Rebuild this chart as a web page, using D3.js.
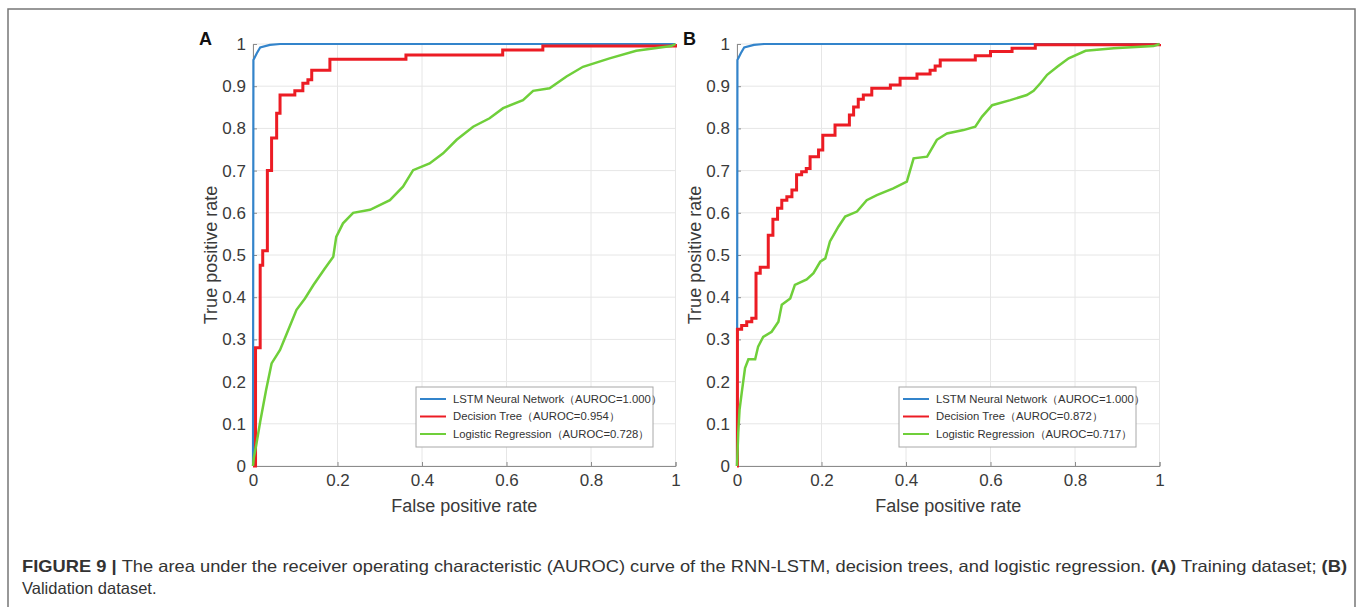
<!DOCTYPE html>
<html>
<head>
<meta charset="utf-8">
<script src="https://cdn.jsdelivr.net/npm/d3@7"></script>
<style>
  body { margin: 0; background: #fff; }
  svg { display: block; }
</style>
</head>
<body>
<div id="chart"></div>
<script>
// tick values shared by both panels
const xTicks = [0, 0.2, 0.4, 0.6, 0.8, 1];
const yTicks = [0, 0.1, 0.2, 0.3, 0.4, 0.5, 0.6, 0.7, 0.8, 0.9, 1];

const seriesNames = ["LSTM Neural Network", "Decision Tree", "Logistic Regression"];
const aurocA = ["1.000", "0.954", "0.728"];
const aurocB = ["1.000", "0.872", "0.717"];

// (A) training dataset
const lstmFprA = [0, 0.001, 0.009, 0.017, 0.04, 0.064, 1];
const lstmTprA = [0, 0.962, 0.978, 0.992, 0.998, 1, 1];

const treeFprA = [0, 0.006, 0.017, 0.023, 0.034, 0.044, 0.056, 0.064, 0.099, 0.118, 0.130, 0.139, 0.182, 0.362, 0.591, 0.686, 1];
const treeTprA = [0, 0.28, 0.476, 0.51, 0.70, 0.777, 0.836, 0.879, 0.889, 0.907, 0.915, 0.938, 0.964, 0.974, 0.986, 0.995, 1];

const logFprA = [0, 0.002, 0.007, 0.017, 0.031, 0.044, 0.064, 0.080, 0.103, 0.123, 0.143, 0.170, 0.190, 0.197, 0.213, 0.237, 0.277, 0.324, 0.355, 0.379, 0.418, 0.450, 0.482, 0.521, 0.560, 0.592, 0.639, 0.663, 0.702, 0.742, 0.781, 0.844, 0.907, 0.99, 1];
const logTprA = [0, 0.02, 0.046, 0.105, 0.18, 0.243, 0.275, 0.314, 0.37, 0.397, 0.429, 0.468, 0.496, 0.543, 0.575, 0.600, 0.607, 0.630, 0.662, 0.701, 0.717, 0.741, 0.773, 0.804, 0.824, 0.848, 0.867, 0.889, 0.895, 0.923, 0.946, 0.966, 0.984, 0.995, 1];

// (B) validation dataset
const lstmFprB = [0, 0.001, 0.009, 0.017, 0.04, 0.064, 1];
const lstmTprB = [0, 0.962, 0.978, 0.992, 0.998, 1, 1];

const treeFprB = [0, 0.001, 0.011, 0.023, 0.035, 0.045, 0.055, 0.074, 0.085, 0.096, 0.106, 0.118, 0.130, 0.141, 0.153, 0.164, 0.173, 0.193, 0.203, 0.232, 0.266, 0.276, 0.287, 0.299, 0.319, 0.363, 0.386, 0.426, 0.457, 0.469, 0.481, 0.564, 0.600, 0.651, 0.706, 1];
const treeTprB = [0, 0.324, 0.333, 0.342, 0.35, 0.457, 0.471, 0.547, 0.585, 0.611, 0.630, 0.638, 0.654, 0.690, 0.697, 0.705, 0.733, 0.749, 0.784, 0.808, 0.832, 0.851, 0.869, 0.879, 0.895, 0.903, 0.919, 0.929, 0.938, 0.948, 0.962, 0.972, 0.982, 0.990, 0.998, 1];

const logFprB = [0, 0.003, 0.006, 0.011, 0.019, 0.027, 0.043, 0.050, 0.062, 0.082, 0.098, 0.106, 0.126, 0.137, 0.165, 0.181, 0.197, 0.209, 0.220, 0.240, 0.256, 0.284, 0.307, 0.331, 0.370, 0.402, 0.418, 0.450, 0.473, 0.497, 0.536, 0.564, 0.580, 0.604, 0.647, 0.686, 0.702, 0.718, 0.734, 0.758, 0.785, 0.825, 0.892, 0.986, 1];
const logTprB = [0, 0.08, 0.133, 0.172, 0.232, 0.253, 0.253, 0.283, 0.306, 0.318, 0.342, 0.382, 0.397, 0.429, 0.442, 0.457, 0.484, 0.492, 0.532, 0.567, 0.591, 0.603, 0.630, 0.642, 0.658, 0.674, 0.729, 0.733, 0.773, 0.788, 0.796, 0.804, 0.828, 0.855, 0.867, 0.879, 0.889, 0.907, 0.927, 0.946, 0.966, 0.984, 0.990, 0.995, 1];

const colors = ["#3384cb", "#ec1c24", "#6fcf3a"];
const widths = [2.2, 3, 2.5];

const width = 1358;
const height = 607;

const svg = d3.select("#chart")
    .append("svg")
    .attr("width", width)
    .attr("height", height)
    .style("font-family", "'Liberation Sans', Arial, sans-serif");

// figure frame (runs off the bottom)
svg.append("path")
    .attr("d", `M8,${height + 5}V9H1355V${height + 5}`)
    .attr("fill", "none")
    .attr("stroke", "#777")
    .attr("stroke-width", 1.5);

const zip = (xs, ys) => xs.map((x, i) => [x, ys[i]]);

const panels = [
    {
        letter: "A", left: 253, auroc: aurocA, legendX: 416,
        series: [zip(lstmFprA, lstmTprA), zip(treeFprA, treeTprA), zip(logFprA, logTprA)]
    },
    {
        letter: "B", left: 737, auroc: aurocB, legendX: 899,
        series: [zip(lstmFprB, lstmTprB), zip(treeFprB, treeTprB), zip(logFprB, logTprB)]
    }
];

const plotW = 422.5;
const plotTop = 44;
const plotH = 422;

panels.forEach(p => {
    const g = svg.append("g").attr("transform", `translate(${p.left},${plotTop})`);

    const x = d3.scaleLinear().domain([0, 1]).range([0, plotW]);
    const y = d3.scaleLinear().domain([0, 1]).range([plotH, 0]);

    // grid
    g.append("g")
        .selectAll("line")
        .data(xTicks)
        .join("line")
        .attr("x1", d => x(d)).attr("x2", d => x(d))
        .attr("y1", 0).attr("y2", plotH)
        .attr("stroke", "#e6e6e6");
    g.append("g")
        .selectAll("line")
        .data(yTicks)
        .join("line")
        .attr("x1", 0).attr("x2", plotW)
        .attr("y1", d => y(d)).attr("y2", d => y(d))
        .attr("stroke", "#e6e6e6");

    // axes, matlab style ticks pointing in
    const xAxis = g.append("g")
        .attr("transform", `translate(0,${plotH})`)
        .call(d3.axisBottom(x).tickValues(xTicks).tickSize(-4).tickPadding(8).tickFormat(d3.format("~g")));
    const yAxis = g.append("g")
        .call(d3.axisLeft(y).tickValues(yTicks).tickSize(-4).tickPadding(7).tickFormat(d3.format("~g")));
    [xAxis, yAxis].forEach(a => {
        a.attr("font-family", null);
        a.select(".domain").attr("stroke", "#8c8c8c");
        a.selectAll(".tick line").attr("stroke", "#8c8c8c");
        a.selectAll("text")
            .attr("fill", "#3a3a3a")
            .style("font-size", "17px");
    });

    // curves
    const lineLinear = d3.line().x(d => x(d[0])).y(d => y(d[1]));
    const lineStep = d3.line().x(d => x(d[0])).y(d => y(d[1])).curve(d3.curveStepAfter);

    p.series.forEach((s, i) => {
        g.append("path")
            .datum(s)
            .attr("d", i === 1 ? lineStep : lineLinear)
            .attr("fill", "none")
            .attr("stroke", colors[i])
            .attr("stroke-width", widths[i])
            .attr("stroke-linejoin", "miter");
    });

    // axis labels
    g.append("text")
        .attr("x", plotW / 2)
        .attr("y", plotH + 46)
        .attr("text-anchor", "middle")
        .attr("fill", "#3a3a3a")
        .style("font-size", "18px")
        .text("False positive rate");
    g.append("text")
        .attr("transform", `translate(-36,${plotH / 2}) rotate(-90)`)
        .attr("text-anchor", "middle")
        .attr("fill", "#3a3a3a")
        .style("font-size", "18px")
        .text("True positive rate");

    // panel letter
    svg.append("text")
        .attr("x", p.left - 54)
        .attr("y", 45)
        .attr("fill", "#111")
        .style("font-size", "18px")
        .style("font-weight", "bold")
        .text(p.letter);

    // legend
    const lg = svg.append("g").attr("transform", `translate(${p.legendX},387)`);
    lg.append("rect")
        .attr("width", 237)
        .attr("height", 60)
        .attr("fill", "#fff")
        .attr("stroke", "#a8a8a8");
    seriesNames.forEach((name, i) => {
        const row = lg.append("g").attr("transform", `translate(0,${12 + i * 17.5})`);
        row.append("line")
            .attr("x1", 4).attr("x2", 30)
            .attr("stroke", colors[i])
            .attr("stroke-width", 2);
        row.append("text")
            .attr("x", 37)
            .attr("dy", "0.35em")
            .attr("fill", "#333")
            .style("font-size", "11.3px")
            .text(`${name}（AUROC=${p.auroc[i]}）`);
    });
});

// caption
const cap1 = svg.append("text")
    .attr("x", 22)
    .attr("y", 572)
    .attr("fill", "#333")
    .attr("textLength", 1325)
    .attr("lengthAdjust", "spacingAndGlyphs")
    .style("font-size", "16.5px");
cap1.append("tspan").style("font-weight", "bold").text("FIGURE 9 | ");
cap1.append("tspan").text("The area under the receiver operating characteristic (AUROC) curve of the RNN-LSTM, decision trees, and logistic regression. ");
cap1.append("tspan").style("font-weight", "bold").text("(A)");
cap1.append("tspan").text(" Training dataset; ");
cap1.append("tspan").style("font-weight", "bold").text("(B)");

svg.append("text")
    .attr("x", 22)
    .attr("y", 594)
    .attr("fill", "#333")
    .style("font-size", "16.5px")
    .text("Validation dataset.");
</script>
</body>
</html>
